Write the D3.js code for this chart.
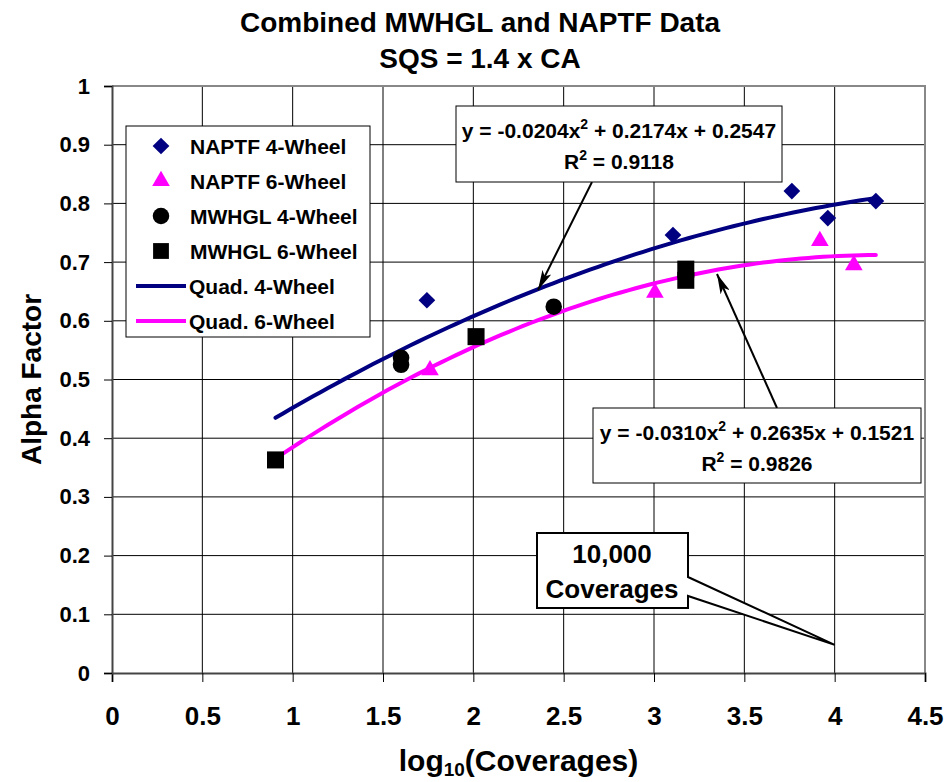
<!DOCTYPE html>
<html><head><meta charset="utf-8">
<script src="https://cdn.jsdelivr.net/npm/d3@7"></script>
<style>
body{margin:0;background:#fff;}
text{font-family:"Liberation Sans",Arial,Helvetica,sans-serif;font-weight:bold;fill:#000;}
</style></head>
<body>
<svg id="chart" width="948" height="782"></svg>
<script>
// ---- data ----
const naptf4X = [1.743, 3.105, 3.763, 3.962, 4.228];
const naptf4Y = [0.635, 0.746, 0.821, 0.775, 0.804];
const naptf6X = [1.760, 3.005, 3.918, 4.106];
const naptf6Y = [0.516, 0.648, 0.736, 0.695];
const mwhgl4X = [1.600, 1.600, 2.445];
const mwhgl4Y = [0.537, 0.525, 0.624];
const mwhgl6X = [0.905, 2.015, 3.176, 3.176];
const mwhgl6Y = [0.363, 0.573, 0.688, 0.669];
const fit4Coef = [-0.0204, 0.2174, 0.2547];
const fit6Coef = [-0.0310, 0.2635, 0.1521];
const fitRange = [0.905, 4.228];
const xTicks = [0, 0.5, 1, 1.5, 2, 2.5, 3, 3.5, 4, 4.5];
const yTicks = [0, 0.1, 0.2, 0.3, 0.4, 0.5, 0.6, 0.7, 0.8, 0.9, 1];
const legendLabels = ["NAPTF 4-Wheel","NAPTF 6-Wheel","MWHGL 4-Wheel","MWHGL 6-Wheel","Quad. 4-Wheel","Quad. 6-Wheel"];
const colNavy = "#000080", colMag = "#FF00FF";

const svg = d3.select("#chart");
const L = 112, R = 925, T = 86, B = 673;
const x = d3.scaleLinear().domain([0, 4.5]).range([L, R]);
const y = d3.scaleLinear().domain([0, 1]).range([B, T]);

// title
svg.append("text").attr("x", 480).attr("y", 32).attr("text-anchor","middle").style("font-size","28px").text("Combined MWHGL and NAPTF Data");
svg.append("text").attr("x", 480).attr("y", 68).attr("text-anchor","middle").style("font-size","28px").text("SQS = 1.4 x CA");

// grid
const g = svg.append("g");
g.selectAll("line.v").data(xTicks.filter(d => d > 0 && d < 4.5)).join("line")
  .attr("x1", d => x(d)).attr("x2", d => x(d)).attr("y1", T).attr("y2", B)
  .attr("stroke", "#000").attr("stroke-width", 1);
g.selectAll("line.h").data(yTicks.filter(d => d > 0 && d < 1)).join("line")
  .attr("x1", L).attr("x2", R).attr("y1", d => y(d)).attr("y2", d => y(d))
  .attr("stroke", "#000").attr("stroke-width", 1);
// border top/right
g.append("path").attr("d", `M${L},${T}H${R}V${B}`).attr("fill","none").attr("stroke","#888").attr("stroke-width",2);

// axes
const xAxis = d3.axisBottom(x).tickValues(xTicks).tickSize(9).tickPadding(25).tickFormat(d3.format("~g"));
const gx = svg.append("g").attr("transform", `translate(0,${B})`).call(xAxis);
gx.select(".domain").attr("stroke","#444").attr("stroke-width",2);
gx.selectAll(".tick line").attr("stroke","#000");
gx.selectAll("text").style("font-family","'Liberation Sans Narrow','Arial Narrow',sans-serif").style("font-size","26px").style("font-weight","bold");

const yAxis = d3.axisLeft(y).tickValues(yTicks).tickSize(8).tickPadding(14).tickFormat(d3.format("~g"));
const gy = svg.append("g").attr("transform", `translate(${L},0)`).call(yAxis);
gy.select(".domain").attr("stroke","#444").attr("stroke-width",2);
gy.selectAll(".tick line").attr("stroke","#000");
gy.selectAll("text").style("font-size","22px").style("font-weight","bold").attr("font-family",null);

// axis titles
svg.append("text").attr("transform", `translate(41,${(T+B)/2}) rotate(-90)`).attr("text-anchor","middle").style("font-size","28px").text("Alpha Factor");
const xt = svg.append("text").attr("x", (L+R)/2).attr("y", 771).attr("text-anchor","middle")
  .style("font-family","'Liberation Sans Narrow','Arial Narrow',sans-serif").style("font-size","30px");
xt.append("tspan").text("log");
xt.append("tspan").attr("dy", 5).style("font-size","19px").text("10");
xt.append("tspan").attr("dy", -5).text("(Coverages)");

// fit curves
function curve(coef){
  const xs = d3.range(fitRange[0], fitRange[1] + 1e-9, (fitRange[1]-fitRange[0])/80);
  return xs.map(v => [v, coef[0]*v*v + coef[1]*v + coef[2]]);
}
const line = d3.line().x(d => x(d[0])).y(d => y(d[1])).curve(d3.curveLinear);
svg.append("path").attr("d", line(curve(fit4Coef))).attr("fill","none").attr("stroke",colNavy).attr("stroke-width",4).attr("stroke-linecap","round");
svg.append("path").attr("d", line(curve(fit6Coef))).attr("fill","none").attr("stroke",colMag).attr("stroke-width",4).attr("stroke-linecap","round");

// markers
const sym = {
  diamond: d3.symbol().type(d3.symbolSquare).size(140),
  tri: d3.symbol().type(d3.symbolTriangle).size(135),
  circle: d3.symbol().type(d3.symbolCircle).size(215),
  square: d3.symbol().type(d3.symbolSquare).size(290)
};
function drawPts(xs, ys, s, color, rot){
  svg.append("g").selectAll("path").data(xs.map((v,i)=>[v, ys[i]])).join("path")
    .attr("d", s).attr("fill", color)
    .attr("transform", d => `translate(${x(d[0])},${y(d[1])})` + (rot ? " rotate(45)" : ""));
}
drawPts(mwhgl6X, mwhgl6Y, sym.square, "#000", false);
drawPts(mwhgl4X, mwhgl4Y, sym.circle, "#000", false);
drawPts(naptf6X, naptf6Y, sym.tri, colMag, false);
drawPts(naptf4X, naptf4Y, sym.diamond, colNavy, true);

// legend
const lg = svg.append("g");
lg.append("rect").attr("x",126).attr("y",126).attr("width",244).attr("height",211).attr("fill","#fff").attr("stroke","#000").attr("stroke-width",1);
const legY = i => 146 + i*35;
const legSyms = [[sym.diamond, colNavy, true],[sym.tri, colMag, false],[sym.circle,"#000",false],[d3.symbol().type(d3.symbolSquare).size(250),"#000",false]];
legSyms.forEach((s,i) => {
  lg.append("path").attr("d", s[0]).attr("fill", s[1]).attr("transform", `translate(161,${legY(i)})` + (s[2] ? " rotate(45)" : ""));
});
[colNavy, colMag].forEach((c,i) => {
  lg.append("line").attr("x1",136).attr("x2",186).attr("y1",legY(i+4)).attr("y2",legY(i+4)).attr("stroke",c).attr("stroke-width",4);
});
lg.selectAll("text").data(legendLabels).join("text")
  .attr("x", (d,i) => i < 4 ? 190 : 189).attr("y", (d,i) => legY(i) + 8).style("font-size","21px").text(d => d);

// arrows
const defs = svg.append("defs");
defs.append("marker").attr("id","ah").attr("viewBox","0 0 20 10").attr("refX",20).attr("refY",5)
  .attr("markerWidth",20).attr("markerHeight",10).attr("markerUnits","userSpaceOnUse").attr("orient","auto")
  .append("path").attr("d","M0,0 L20,5 L0,10 L5,5 Z").attr("fill","#000");
svg.append("line").attr("x1",592).attr("y1",182).attr("x2",538).attr("y2",290).attr("stroke","#000").attr("stroke-width",2).attr("marker-end","url(#ah)");
svg.append("line").attr("x1",777).attr("y1",408).attr("x2",717).attr("y2",274).attr("stroke","#000").attr("stroke-width",2).attr("marker-end","url(#ah)");

// equation boxes
function eqBox(x0, y0, w, h, coef, r2){
  const gb = svg.append("g");
  gb.append("rect").attr("x",x0).attr("y",y0).attr("width",w).attr("height",h).attr("fill","#fff").attr("stroke","#000").attr("stroke-width",1);
  const fmt = v => (v < 0 ? "-" : "") + Math.abs(v).toFixed(4);
  const t1 = gb.append("text").attr("x", x0 + w/2).attr("y", y0 + 32).attr("text-anchor","middle").style("font-size","21px");
  t1.append("tspan").text(`y = ${fmt(coef[0])}x`);
  t1.append("tspan").attr("dy",-9).style("font-size","14px").text("2");
  t1.append("tspan").attr("dy",9).text(` + ${fmt(coef[1])}x + ${fmt(coef[2])}`);
  const t2 = gb.append("text").attr("x", x0 + w/2).attr("y", y0 + 63).attr("text-anchor","middle").style("font-size","21px");
  t2.append("tspan").text("R");
  t2.append("tspan").attr("dy",-9).style("font-size","14px").text("2");
  t2.append("tspan").attr("dy",9).text(" = " + r2);
}
eqBox(456, 106, 326, 76, fit4Coef, "0.9118");
eqBox(593, 408, 328, 75, fit6Coef, "0.9826");

// callout
const tipX = x(4.0), tipY = y(0.048);
svg.append("path").attr("d", `M537,533 H688 V577 L${tipX},${tipY} L688,596 V608 H537 Z`)
  .attr("fill","#fff").attr("stroke","#000").attr("stroke-width",2);
svg.append("text").attr("x",612).attr("y",563).attr("text-anchor","middle").style("font-size","26px").text("10,000");
svg.append("text").attr("x",612).attr("y",598).attr("text-anchor","middle").style("font-size","26px").text("Coverages");
</script>
</body></html>
